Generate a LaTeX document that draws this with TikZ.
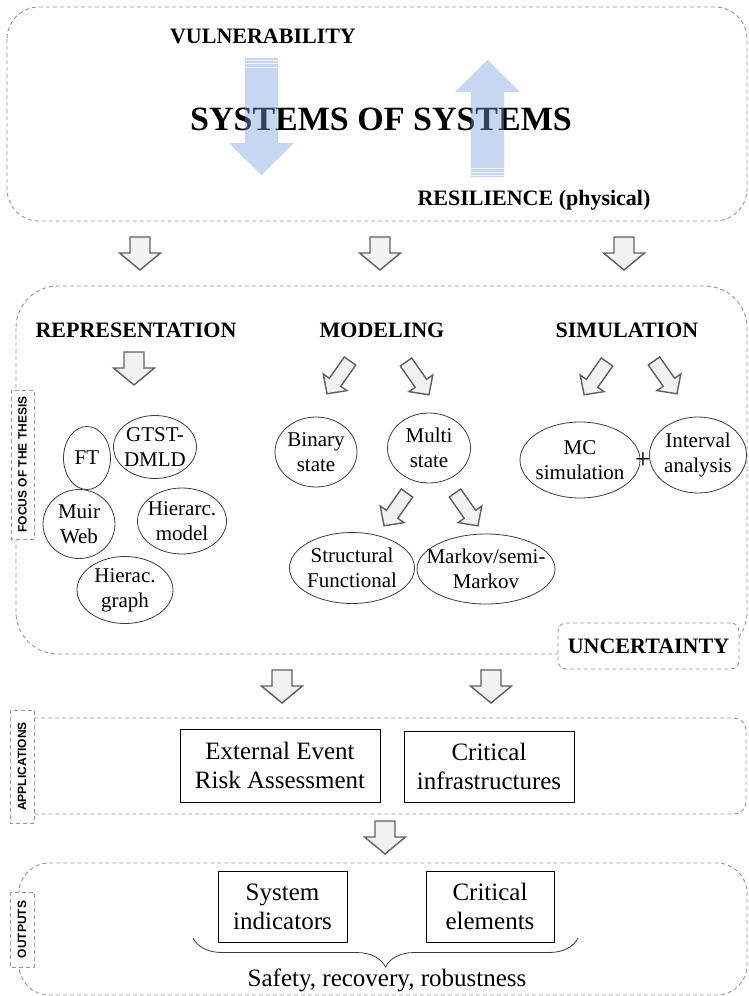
\documentclass[tikz,border=0pt]{standalone}
\usepackage{fontspec}
\setmainfont{Liberation Serif}
\newfontfamily\sidefont{Liberation Sans}
\usetikzlibrary{shapes.geometric,decorations.pathreplacing}
\definecolor{zonegray}{RGB}{150,150,150}
\definecolor{ellgray}{RGB}{60,60,60}
\definecolor{arrgray}{RGB}{95,95,95}
\definecolor{arrfill}{RGB}{242,242,242}
\definecolor{bluearrow}{RGB}{122,158,220}
\tikzset{
  bigarr/.pic={\draw[blockarr] (-10,0) -- (10,0) -- (10,16) -- (20.5,16) -- (0,33) -- (-20.5,16) -- (-10,16) -- cycle;},
  smallarr/.pic={\draw[blockarr] (-7,0) -- (7,0) -- (7,26) -- (14.5,26) -- (0,40) -- (-14.5,26) -- (-7,26) -- cycle;}
}

\begin{document}
\begin{tikzpicture}[x=1pt,y=-1pt,line join=round,
  zone/.style={draw=zonegray,dash pattern=on 4pt off 3pt,line width=0.9pt},
  tag/.style={zone,fill=white,font=\sidefont\bfseries\fontsize{12}{12}\selectfont,rotate=90,inner sep=0pt},
  ell/.style={draw=ellgray,line width=0.8pt,ellipse,inner xsep=-12pt,inner ysep=-8pt,align=center,font=\fontsize{21}{25}\selectfont},
  box/.style={draw,line width=1pt,align=center,inner sep=0pt,font=\fontsize{25}{29}\selectfont},
  head/.style={font=\bfseries\fontsize{22}{22}\selectfont},
  blockarr/.style={draw=arrgray,fill=arrfill,line width=1.4pt,line join=miter},
  bluearr/.style={fill=bluearrow,fill opacity=0.41}]
\useasboundingbox (0,0) rectangle (749,996);

\draw[zone,rounded corners=32pt] (7,7) rectangle (747,221);
\draw[zone,rounded corners=42pt] (16,286) rectangle (747,654);
\draw[zone,rounded corners=12pt] (22,718) rectangle (746,814);
\draw[zone,rounded corners=30pt] (19,863) rectangle (747,995);

\node[head] (vuln) at (263,36) {VULNERABILITY};
\node[font=\bfseries\fontsize{34}{34}\selectfont] (sos) at (381,119) {SYSTEMS OF SYSTEMS};
\node[head] (resil) at (534,200) {RESILIENCE (physical)};
\fill[bluearr] (245,58) -- (278,58) -- (278,143) -- (294,143) -- (261.5,175) -- (229,143) -- (245,143) -- cycle;
\fill[bluearr] (471,177) -- (504,177) -- (504,92) -- (520,92) -- (487.5,60) -- (455,92) -- (471,92) -- cycle;
\foreach \yy in {60,63,67} \draw[white,line width=0.8pt,opacity=0.7] (245,\yy) -- (278,\yy);
\foreach \yy in {175,172,168} \draw[white,line width=0.8pt,opacity=0.7] (471,\yy) -- (504,\yy);

\foreach \xx in {140,380,624} \pic at (\xx,237) {bigarr};

\node[head] (repr) at (136,330) {REPRESENTATION};
\node[head] (model) at (382,330) {MODELING};
\node[head] (simul) at (627,330) {SIMULATION};
\pic at (134,352) {bigarr};
\pic[rotate=-35] at (350,361) {smallarr};
\pic[rotate=35] at (406,362) {smallarr};
\pic[rotate=-35] at (607,362) {smallarr};
\pic[rotate=35] at (654,361) {smallarr};
\pic[rotate=-35] at (407,493) {smallarr};
\pic[rotate=35] at (455,493) {smallarr};

\node[ell,minimum width=47pt,minimum height=63pt] (ft) at (87,458) {FT};
\node[ell,minimum width=83pt,minimum height=63pt] (gtst) at (155,447) {GTST-\\DMLD};
\node[ell,minimum width=72pt,minimum height=69pt] (muir) at (79,524) {Muir\\Web};
\node[ell,minimum width=89pt,minimum height=66pt] (hmodel) at (182,521) {Hierarc.\\model};
\node[ell,minimum width=96pt,minimum height=67pt] (hgraph) at (125,590) {Hierac.\\graph};
\node[ell,minimum width=82pt,minimum height=70pt] (binary) at (316,452) {Binary\\state};
\node[ell,minimum width=83pt,minimum height=70pt] (multi) at (429,448) {Multi\\state};
\node[ell,minimum width=125pt,minimum height=71pt] (struct) at (352,568) {Structural\\Functional};
\node[ell,minimum width=138pt,minimum height=70pt] (markov) at (486,569) {Markov/semi-\\Markov};
\node[ell,minimum width=120pt,minimum height=76pt] (mc) at (580,460) {MC\\simulation};
\node[ell,minimum width=97pt,minimum height=76pt] (interval) at (698,455) {Interval\\analysis};
\node[font=\fontsize{28}{28}\selectfont,inner sep=0pt] (plus) at (643,461) {+};

\node[zone,head,fill=white,rounded corners=8pt,inner sep=0pt,minimum width=181pt,minimum height=46pt] (unc) at (648.5,646) {UNCERTAINTY};
\node[tag,minimum width=149pt,minimum height=23pt] (focus) at (22.5,464.5) {FOCUS OF THE THESIS};

\foreach \xx in {282,491} \pic at (\xx,670) {bigarr};

\node[tag,minimum width=113pt,minimum height=24pt] (appl) at (22,766.5) {APPLICATIONS};
\node[box,minimum width=200pt,minimum height=73pt] (ext) at (280,765.5) {External Event\\Risk Assessment};
\node[box,minimum width=170pt,minimum height=71pt] (infra) at (489,766.5) {Critical\\infrastructures};

\pic at (385,821) {bigarr};

\node[tag,minimum width=75pt,minimum height=24pt] (outp) at (22,929.5) {OUTPUTS};
\node[box,minimum width=129pt,minimum height=71pt] (sysind) at (282.5,906.5) {System\\indicators};
\node[box,minimum width=128pt,minimum height=71pt] (critel) at (490,906.5) {Critical\\elements};
\draw[decorate,decoration={brace,mirror,amplitude=29pt},draw=ellgray,line width=0.8pt] (193,938) -- (578,938);
\node[font=\fontsize{25}{25}\selectfont] (safety) at (387,980) {Safety, recovery, robustness};
\end{tikzpicture}
\end{document}
